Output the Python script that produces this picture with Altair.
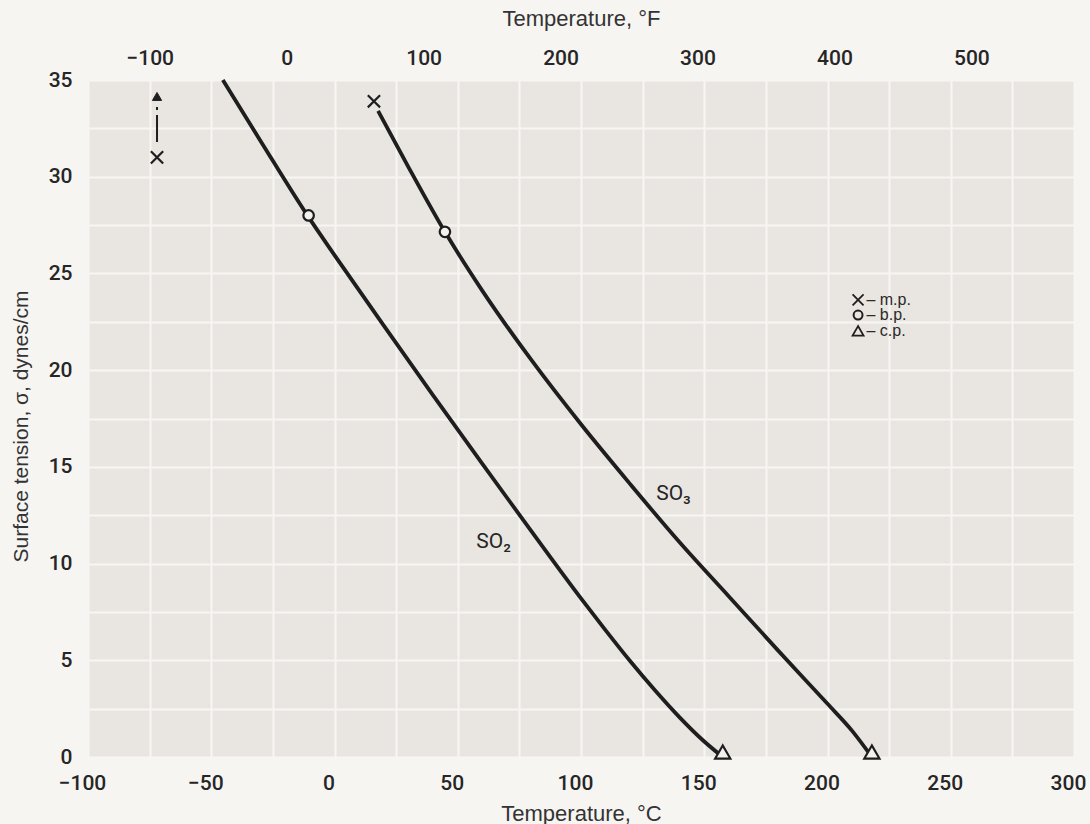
import altair as alt
import pandas as pd

# ---- data ----
so2_t = [-45.3, -30, -11, 0, 20, 40, 60, 80, 100, 110, 120, 130, 140, 150, 157.5]
so2_s = [35.0, 31.85, 28.0, 25.95, 22.3, 18.7, 15.15, 11.65, 8.2, 6.55, 4.95, 3.45, 2.05, 0.8, 0.0]
so3_t = [17.7, 30, 44.8, 60, 80, 100, 120, 140, 160, 180, 200, 210, 218]
so3_s = [33.4, 30.5, 27.15, 24.1, 20.5, 17.2, 14.1, 11.1, 8.3, 5.5, 2.75, 1.35, 0.0]

mp_t = [-72.0, 16.0]
mp_s = [31.0, 33.9]
bp_t = [-10.5, 44.8]
bp_s = [28.0, 27.15]
cp_t = [157.5, 218.0]
cp_s = [0.0, 0.0]

label_text = ["SO\u2082", "SO\u2083"]
label_t = [57.5, 130.5]
label_s = [11.1, 13.6]

legend_text = ["\u2013 m.p.", "\u2013 b.p.", "\u2013 c.p."]
legend_sym_t = [212.4, 212.4, 212.4]
legend_txt_t = [215.8, 215.8, 215.8]
legend_s = [23.63, 22.85, 22.03]

arrow_t = [-72.0]
arrow_s0 = [31.8]
arrow_s1 = [33.6]
arrow_head_s = [34.15]

f_ticks = [-100, 0, 100, 200, 300, 400, 500]
x_grid = list(range(-100, 301, 25))
y_grid = [v * 2.5 for v in range(0, 15)]

X_DOM = [-100, 300]
Y_DOM = [0, 35]
F_DOM = [-148, 572]

INK = "#1e1e1e"
TICKF = "Roboto, Liberation Sans, sans-serif"
REG = "Liberation Sans, Arial, sans-serif"

curves = pd.DataFrame({
    "t": so2_t + so3_t,
    "s": so2_s + so3_s,
    "gas": ["SO2"] * len(so2_t) + ["SO3"] * len(so3_t),
})
mp_df = pd.DataFrame({"t": mp_t, "s": mp_s})
bp_df = pd.DataFrame({"t": bp_t, "s": bp_s})
cp_df = pd.DataFrame({"t": cp_t, "s": cp_s})
lab_df = pd.DataFrame({"t": label_t, "s": label_s, "txt": label_text})
leg_sym = pd.DataFrame({"t": legend_sym_t, "s": legend_s, "k": ["mp", "bp", "cp"]})
leg_txt = pd.DataFrame({"t": legend_txt_t, "s": legend_s, "txt": legend_text})
arrow_df = pd.DataFrame({"t": arrow_t, "s0": arrow_s0, "s1": arrow_s1, "sh": arrow_head_s})
top_df = pd.DataFrame({"f": f_ticks})

x_axis = alt.Axis(
    values=x_grid,
    labelExpr="datum.value % 50 === 0 ? datum.label : ''",
    ticks=False, domain=False, labelOverlap=False, labelFlush=False,
    labelPadding=15, labelOffset=-6, labelFont=TICKF, labelFontSize=21, labelFontWeight=500,
    labelColor="#262626",
    title="Temperature, \u00b0C", titleFont=REG, titleFontSize=22,
    titleFontWeight="normal", titleColor="#333333",
    titleY=56, titleBaseline="middle",
)
y_axis = alt.Axis(
    values=y_grid,
    labelExpr="datum.value % 5 === 0 ? datum.label : ''",
    ticks=False, domain=False, labelOverlap=False, labelFlush=False,
    labelPadding=16, labelFont=TICKF, labelFontSize=21, labelFontWeight=500,
    labelColor="#262626",
    title="Surface tension, \u03c3, dynes/cm", titleFont=REG, titleFontSize=21,
    titleFontWeight="normal", titleColor="#333333",
    titleX=-67, titleY=346, titleBaseline="middle", titleAngle=270,
)

XS = alt.Scale(domain=X_DOM, nice=False, zero=False)
YS = alt.Scale(domain=Y_DOM, nice=False, zero=False)
X = alt.X("t:Q", scale=XS, axis=x_axis)
Y = alt.Y("s:Q", scale=YS, axis=y_axis)

lines = alt.Chart(curves).mark_line(
    color=INK, strokeWidth=3.8, interpolate="monotone", strokeCap="butt"
).encode(x=X, y=Y, detail="gas:N")

cross_path = "M -1 -1 L 1 1 M -1 1 L 1 -1"

mp_pts = alt.Chart(mp_df).mark_point(
    shape=cross_path, size=150, stroke=INK, strokeWidth=2.2, filled=False, opacity=1
).encode(x=X, y=Y)

bp_pts = alt.Chart(bp_df).mark_point(
    shape="circle", size=110, fill="#f4f1ee", stroke=INK, strokeWidth=2.2, filled=True, opacity=1
).encode(x=X, y=Y)

cp_pts = alt.Chart(cp_df).mark_point(
    shape="triangle-up", size=230, fill="#f4f1ee", stroke=INK, strokeWidth=2.2, filled=True, opacity=1
).encode(x=X, y=Y, yOffset=alt.value(-5))

arrow_shaft = alt.Chart(arrow_df).mark_rule(
    color=INK, strokeWidth=2, strokeDash=[27, 5, 6, 40]
).encode(x=X, y=alt.Y("s0:Q", scale=YS, axis=y_axis), y2="s1:Q")
arrow_head = alt.Chart(arrow_df).mark_point(
    shape="triangle-up", size=85, fill=INK, filled=True, opacity=1, stroke=INK, strokeWidth=1
).encode(x=X, y=alt.Y("sh:Q", scale=YS, axis=y_axis))

gas_labels = alt.Chart(lab_df).mark_text(
    align="left", baseline="middle", font=TICKF, fontSize=21, color="#262626"
).encode(x=X, y=Y, text="txt:N")

leg_pts_mp = alt.Chart(leg_sym).transform_filter("datum.k === 'mp'").mark_point(
    shape=cross_path, size=120, stroke=INK, strokeWidth=1.8, filled=False, opacity=1
).encode(x=X, y=Y)
leg_pts_bp = alt.Chart(leg_sym).transform_filter("datum.k === 'bp'").mark_point(
    shape="circle", size=80, stroke=INK, strokeWidth=2, filled=False, opacity=1
).encode(x=X, y=Y)
leg_pts_cp = alt.Chart(leg_sym).transform_filter("datum.k === 'cp'").mark_point(
    shape="triangle-up", size=120, stroke=INK, strokeWidth=1.8, filled=False, opacity=1
).encode(x=X, y=Y)
leg_text = alt.Chart(leg_txt).mark_text(
    align="left", baseline="middle", font=REG, fontSize=16, color="#2a2a2a"
).encode(x=X, y=Y, text="txt:N")

main = alt.layer(
    lines, mp_pts, bp_pts, cp_pts, arrow_shaft, arrow_head, gas_labels,
    leg_pts_mp, leg_pts_bp, leg_pts_cp, leg_text,
)

top_axis = alt.Chart(top_df).mark_point(opacity=0).encode(
    x=alt.X(
        "f:Q",
        scale=alt.Scale(domain=F_DOM, nice=False, zero=False),
        axis=alt.Axis(
            orient="top", values=f_ticks, grid=False, ticks=False, domain=False,
            labelOverlap=False, labelFlush=False, labelPadding=12, labelOffset=-4,
            labelFont=TICKF, labelFontSize=21, labelFontWeight=500, labelColor="#262626",
            title="Temperature, \u00b0F", titleFont=REG, titleFontSize=22,
            titleFontWeight="normal", titleColor="#333333",
            titleY=-62, titleBaseline="middle",
        ),
    ),
    y=alt.value(0),
)

chart = alt.layer(main, top_axis).resolve_scale(x="independent").properties(
    width=986, height=677,
    padding={"left": 88, "top": 80, "right": 16, "bottom": 67},
    autosize=alt.AutoSizeParams(type="none"),
    background="#f7f5f2",
).configure_view(
    fill="#e9e5e1", stroke="transparent"
).configure_axis(
    gridColor="#f8f6f3", gridWidth=2
)

chart.save("out.html", embed_options={"renderer": "svg", "actions": False})
